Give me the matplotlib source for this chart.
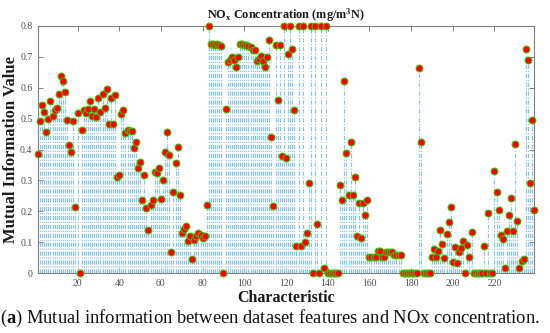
import numpy as np
import matplotlib
matplotlib.use("Agg")
import matplotlib.pyplot as plt

plt.rcParams['lines.scale_dashes'] = False
plt.rcParams['mathtext.fontset'] = 'custom'
plt.rcParams['mathtext.rm'] = 'Liberation Serif'
plt.rcParams['mathtext.bf'] = 'Liberation Serif:bold'
plt.rcParams['mathtext.it'] = 'Liberation Serif:italic'

# Mutual information values for features 1..239
mi_values = [
    0.385, 0.492, 0.544, 0.520, 0.457, 0.500, 0.557, 0.508, 0.527, 0.534,   # 1-10
    0.580, 0.638, 0.623, 0.585, 0.496, 0.415, 0.392, 0.491, 0.214, 0.517,   # 11-20
    0.000, 0.463, 0.529, 0.517, 0.532, 0.558, 0.508, 0.532, 0.506, 0.566,   # 21-30
    0.521, 0.580, 0.536, 0.597, 0.481, 0.568, 0.481, 0.577, 0.310, 0.319,   # 31-40
    0.515, 0.527, 0.452, 0.464, 0.460, 0.461, 0.406, 0.424, 0.341, 0.360,   # 41-50
    0.238, 0.318, 0.211, 0.140, 0.221, 0.235, 0.326, 0.324, 0.341, 0.241,   # 51-60
    0.302, 0.392, 0.457, 0.381, 0.067, 0.262, 0.355, 0.408, 0.253, 0.131,   # 61-70
    0.142, 0.153, 0.104, 0.120, 0.045, 0.107, 0.120, 0.131, 0.124, 0.112,   # 71-80
    0.120, 0.221, 0.800, 0.742, 0.742, 0.739, 0.742, 0.739, 0.735, 0.000,   # 81-90
    0.531, 0.683, 0.691, 0.699, 0.689, 0.667, 0.699, 0.742, 0.742, 0.737,   # 91-100
    0.739, 0.735, 0.733, 0.722, 0.722, 0.685, 0.694, 0.703, 0.688, 0.667,   # 101-110
    0.700, 0.756, 0.442, 0.218, 0.739, 0.559, 0.739, 0.378, 0.800, 0.372,   # 111-120
    0.710, 0.800, 0.724, 0.529, 0.088, 0.800, 0.088, 0.800, 0.102, 0.129,   # 121-130
    0.290, 0.800, 0.000, 0.800, 0.160, 0.000, 0.800, 0.018, 0.800, 0.000,   # 131-140
    0.000, 0.000, 0.000, 0.000, 0.000, 0.284, 0.238, 0.621, 0.390, 0.252,   # 141-150
    0.425, 0.252, 0.312, 0.120, 0.227, 0.112, 0.227, 0.189, 0.236, 0.053,   # 151-160
    0.053, 0.053, 0.053, 0.073, 0.073, 0.051, 0.051, 0.067, 0.067, 0.067,   # 161-170
    0.067, 0.058, 0.058, 0.058, 0.058, 0.000, 0.000, 0.000, 0.000, 0.000,   # 171-180
    0.000, 0.000, 0.000, 0.663, 0.425, 0.000, 0.000, 0.000, 0.000, 0.053,   # 181-190
    0.077, 0.051, 0.072, 0.138, 0.094, 0.048, 0.127, 0.166, 0.214, 0.036,   # 191-200
    0.085, 0.031, 0.067, 0.080, 0.104, 0.000, 0.090, 0.051, 0.134, 0.000,   # 201-210
    0.000, 0.000, 0.000, 0.000, 0.088, 0.000, 0.194, 0.000, 0.000, 0.330,   # 211-220
    0.262, 0.203, 0.124, 0.111, 0.018, 0.137, 0.189, 0.242, 0.137, 0.417,   # 221-230
    0.170, 0.018, 0.040, 0.045, 0.726, 0.690, 0.290, 0.496, 0.203,          # 231-239
]
features = list(range(1, len(mi_values) + 1))

x_ticks = [20, 40, 60, 80, 100, 120, 140, 160, 180, 200, 220]
y_ticks = [0, 0.1, 0.2, 0.3, 0.4, 0.5, 0.6, 0.7, 0.8]
y_ticklabels = ['0', '0.1', '0.2', '0.3', '0.4', '0.5', '0.6', '0.7', '0.8']

serif = ['Liberation Serif', 'DejaVu Serif']

fig = plt.figure(figsize=(5.5, 3.33), dpi=100)
ax = fig.add_axes([0.069, 0.180, 0.902, 0.742])

markerline, stemlines, baseline = ax.stem(features, mi_values, basefmt=' ')
stemlines.set_color('#86c3ea')
stemlines.set_linewidth(0.85)
stemlines.set_linestyle((0, (3.0, 1.3, 0.8, 1.3)))
markerline.set_marker('o')
markerline.set_markersize(5.0)
markerline.set_markerfacecolor('#ff0000')
markerline.set_markeredgecolor('#33cc00')
markerline.set_markeredgewidth(0.7)
markerline.set_linestyle('none')
markerline.set_clip_on(False)
markerline.set_zorder(5)

ax.set_xlim(1, len(mi_values))
ax.set_ylim(0, 0.8)
ax.set_xticks(x_ticks)
ax.set_yticks(y_ticks)
ax.set_yticklabels(y_ticklabels)

for sp in ax.spines.values():
    sp.set_color('#808080')
    sp.set_linewidth(0.8)
ax.tick_params(direction='in', top=True, right=True, length=3.5, width=0.7,
               color='#808080', labelcolor='#4d4d4d', labelsize=7, pad=4)
for lbl in ax.get_xticklabels() + ax.get_yticklabels():
    lbl.set_family(serif)

ax.set_title(r'NO$_\mathregular{x}$ Concentration (mg/m$^\mathregular{3}$N)',
             fontsize=8.8, fontweight='bold', family=serif, pad=5, color='#1a1a1a')
ax.set_xlabel('Characteristic', fontsize=11.5, fontweight='bold', family=serif,
              color='#1a1a1a')
ax.xaxis.set_label_coords(0.5, -0.068)
ax.set_ylabel('Mutual Information Value', fontsize=12, fontweight='bold',
              family=serif, color='#1a1a1a')
ax.yaxis.set_label_coords(-0.038, 0.5)

fig.text(0.0, 0.045,
         r'($\mathbf{a}$) Mutual information between dataset features and NOx concentration.',
         fontsize=13.3, family=serif, ha='left', va='center', color='#111111')

fig.savefig('out.png', dpi=100)
